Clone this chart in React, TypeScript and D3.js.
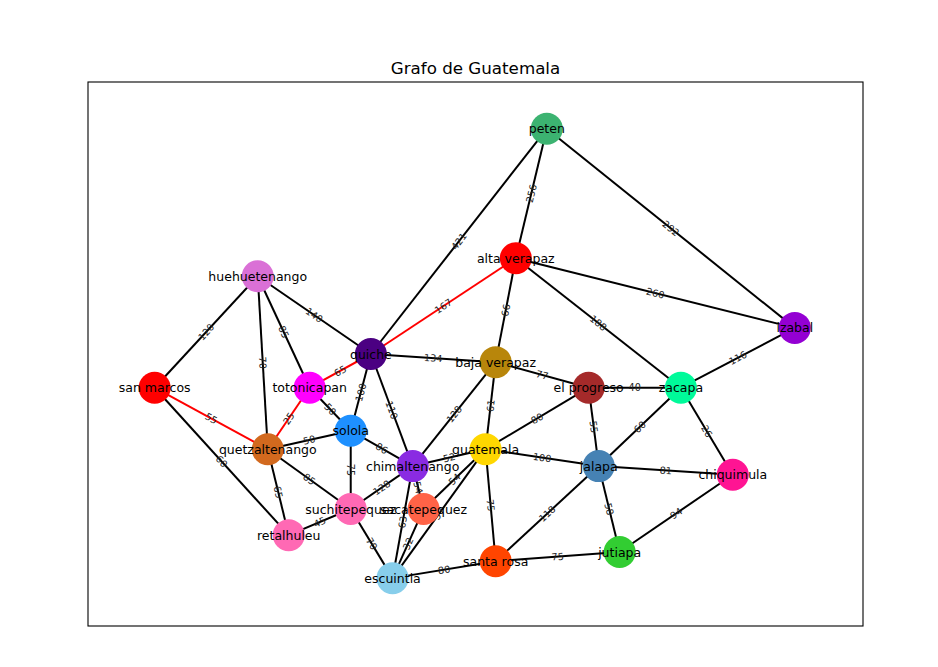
import React from 'react';
import * as d3 from 'd3';

// layout coordinates of each department (0..100 on both axes)
const nodeNames = [
  'peten', 'alta verapaz', 'izabal', 'huehuetenango', 'quiche', 'baja verapaz',
  'san marcos', 'totonicapan', 'el progreso', 'zacapa', 'solola', 'quetzaltenango',
  'guatemala', 'chimaltenango', 'jalapa', 'chiquimula', 'suchitepequez', 'sacatepequez',
  'retalhuleu', 'santa rosa', 'jutiapa', 'escuintla',
];
const nodeX = [
  59.2, 55.2, 91.2, 21.9, 36.5, 52.6,
  8.6, 28.6, 64.6, 76.5, 33.9, 23.2,
  51.3, 41.9, 65.9, 83.2, 33.9, 43.3,
  25.9, 52.6, 68.6, 39.3,
];
const nodeY = [
  91.4, 67.6, 54.8, 64.3, 50.0, 48.5,
  43.8, 43.8, 43.8, 43.8, 35.9, 32.5,
  32.5, 29.4, 29.4, 27.8, 21.5, 21.5,
  16.7, 11.9, 13.6, 8.8,
];
const nodeColors = [
  '#3CB371', '#FF0000', '#9400D3', '#DA70D6', '#4B0082', '#B8860B',
  '#FF0000', '#FF00FF', '#A52A2A', '#00FA9A', '#1E90FF', '#D2691E',
  '#FFD700', '#8A2BE2', '#4682B4', '#FF1493', '#FF69B4', '#FF6347',
  '#FF69B4', '#FF4500', '#32CD32', '#87CEEB',
];

const edgeFrom = [
  'peten', 'peten', 'peten', 'alta verapaz', 'alta verapaz', 'alta verapaz', 'alta verapaz',
  'izabal', 'huehuetenango', 'huehuetenango', 'huehuetenango', 'huehuetenango',
  'quiche', 'quiche', 'quiche', 'quiche', 'san marcos', 'san marcos',
  'totonicapan', 'totonicapan', 'quetzaltenango', 'quetzaltenango', 'quetzaltenango',
  'solola', 'solola', 'chimaltenango', 'chimaltenango', 'chimaltenango', 'chimaltenango',
  'baja verapaz', 'baja verapaz', 'baja verapaz', 'guatemala', 'guatemala', 'guatemala',
  'guatemala', 'guatemala', 'el progreso', 'el progreso', 'zacapa', 'zacapa',
  'jalapa', 'jalapa', 'jalapa', 'chiquimula', 'santa rosa', 'santa rosa',
  'suchitepequez', 'suchitepequez', 'sacatepequez',
];
const edgeTo = [
  'alta verapaz', 'quiche', 'izabal', 'izabal', 'quiche', 'baja verapaz', 'zacapa',
  'zacapa', 'san marcos', 'quetzaltenango', 'totonicapan', 'quiche',
  'totonicapan', 'solola', 'chimaltenango', 'baja verapaz', 'quetzaltenango', 'retalhuleu',
  'quetzaltenango', 'solola', 'solola', 'suchitepequez', 'retalhuleu',
  'chimaltenango', 'suchitepequez', 'suchitepequez', 'guatemala', 'sacatepequez', 'escuintla',
  'chimaltenango', 'guatemala', 'el progreso', 'el progreso', 'jalapa', 'sacatepequez',
  'escuintla', 'santa rosa', 'zacapa', 'jalapa', 'jalapa', 'chiquimula',
  'chiquimula', 'santa rosa', 'jutiapa', 'jutiapa', 'jutiapa', 'escuintla',
  'retalhuleu', 'escuintla', 'escuintla',
];
const edgeWeights = [
  256, 421, 292, 260, 167, 66, 188,
  116, 120, 70, 85, 140,
  65, 100, 110, 134, 55, 60,
  25, 50, 50, 85, 65,
  86, 75, 128, 52, 54, 63,
  128, 61, 77, 80, 100, 54,
  57, 75, 40, 55, 60, 26,
  81, 118, 58, 94, 75, 80,
  45, 70, 32,
];

// shortest route highlighted in red
const pathNodes = ['san marcos', 'quetzaltenango', 'totonicapan', 'quiche', 'alta verapaz'];

const W = 938;
const H = 667;
const left = 88, right = 863, top = 82, bottom = 626;

const App: React.FC = () => {
  const x = d3.scaleLinear().domain([0, 100]).range([left, right]);
  const y = d3.scaleLinear().domain([0, 100]).range([bottom, top]);

  const idx = (n: string) => nodeNames.indexOf(n);
  const px = (n: string) => x(nodeX[idx(n)]);
  const py = (n: string) => y(nodeY[idx(n)]);

  const onPath = (a: string, b: string) => {
    const i = pathNodes.indexOf(a);
    const j = pathNodes.indexOf(b);
    return i >= 0 && j >= 0 && Math.abs(i - j) === 1;
  };

  const edges = edgeFrom.map((a, i) => {
    const b = edgeTo[i];
    const x1 = px(a), y1 = py(a), x2 = px(b), y2 = py(b);
    let ang = (Math.atan2(y2 - y1, x2 - x1) * 180) / Math.PI;
    if (ang > 90) ang -= 180;
    if (ang < -90) ang += 180;
    return { x1, y1, x2, y2, mx: (x1 + x2) / 2, my: (y1 + y2) / 2, ang, w: edgeWeights[i], red: onPath(a, b) };
  });

  const font = 'DejaVu Sans, sans-serif';

  return (
    <svg width={W} height={H} style={{ position: 'absolute', left: 0, top: 0 }} fontFamily={font}>
      <rect width={W} height={H} fill="#fff" />
      <text x={(left + right) / 2} y={74} textAnchor="middle" fontSize={16.7}>Grafo de Guatemala</text>
      <rect x={left} y={top} width={right - left} height={bottom - top} fill="none" stroke="#000" strokeWidth={1.1} />
      <g>
        {edges.map((e, i) => (
          <line key={i} x1={e.x1} y1={e.y1} x2={e.x2} y2={e.y2}
            stroke={e.red ? '#FF0000' : '#000'} strokeWidth={2} />
        ))}
      </g>
      <g>
        {edges.map((e, i) => (
          <text key={i} transform={`translate(${e.mx},${e.my}) rotate(${e.ang})`}
            textAnchor="middle" dominantBaseline="central" fontSize={9.7} fill="#222">
            {e.w}
          </text>
        ))}
      </g>
      <g>
        {nodeNames.map((n, i) => (
          <circle key={n} cx={x(nodeX[i])} cy={y(nodeY[i])} r={16} fill={nodeColors[i]} />
        ))}
      </g>
      <g>
        {nodeNames.map((n, i) => (
          <text key={n} x={x(nodeX[i])} y={y(nodeY[i])} textAnchor="middle"
            dominantBaseline="central" fontSize={12.5} fill="#000">
            {n}
          </text>
        ))}
      </g>
    </svg>
  );
};

export default App;
